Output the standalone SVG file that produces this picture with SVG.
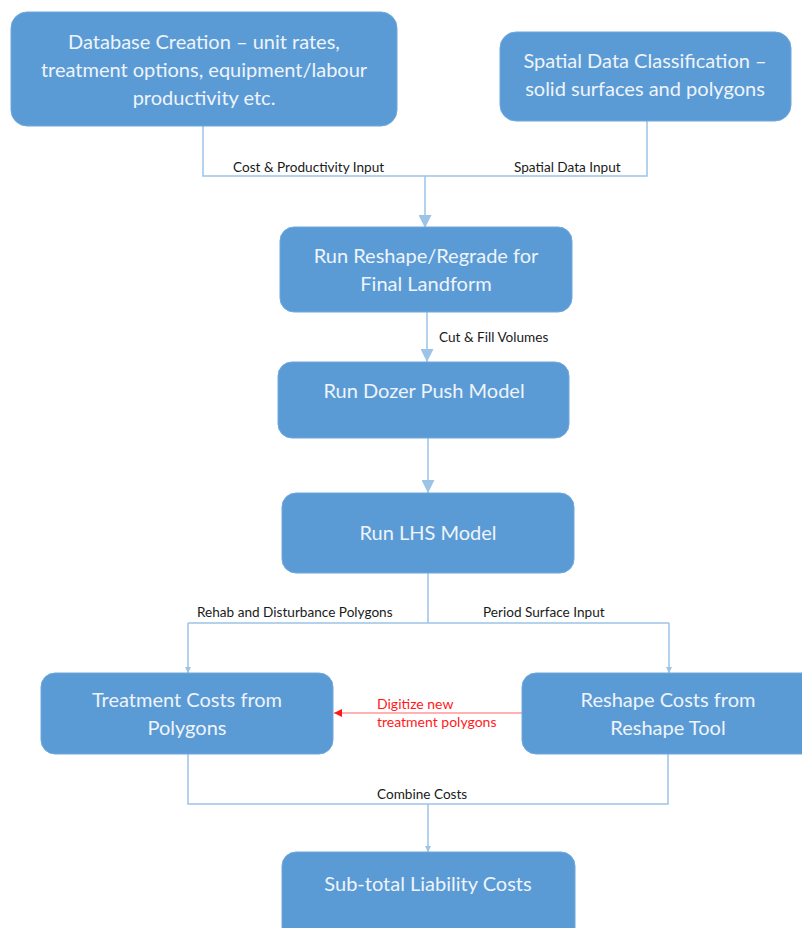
<svg xmlns="http://www.w3.org/2000/svg" width="802" height="928" viewBox="0 0 802 928">
<defs>
<style>
.box{fill:#5B9BD5;stroke:#6FA8DC;stroke-width:1}
.bt{font-family:Lato,"Open Sans","Liberation Sans",sans-serif;font-size:20px;fill:#EEF4FB;text-anchor:middle}
.lbl{font-family:Lato,"Open Sans","Liberation Sans",sans-serif;font-size:13.6px;fill:#1a1a1a}
.red{font-family:Lato,"Open Sans","Liberation Sans",sans-serif;font-size:14px;fill:#FF1A1A}
.ln{fill:none;stroke:#9DC3E6;stroke-width:1.5}
</style>
<marker id="ah" viewBox="0 0 10 10" refX="10" refY="5" markerWidth="6" markerHeight="6" orient="auto" markerUnits="userSpaceOnUse">
<path d="M0,0 L10,5 L0,10 z" fill="#9DC3E6"/>
</marker>
<marker id="ahb" viewBox="0 0 10 10" refX="10" refY="5" markerWidth="13" markerHeight="13" orient="auto" markerUnits="userSpaceOnUse">
<path d="M0,0 L10,5 L0,10 z" fill="#9DC3E6"/>
</marker>
<marker id="ahr" viewBox="0 0 10 10" refX="10" refY="5" markerWidth="8" markerHeight="8" orient="auto" markerUnits="userSpaceOnUse">
<path d="M0,0 L10,5 L0,10 z" fill="#FF1A1A"/>
</marker>
</defs>
<rect width="802" height="928" fill="#FFFFFF"/>

<g id="connectors">
<polyline class="ln" points="203,126 203,176 647,176 647,121"/>
<line class="ln" x1="425" y1="176" x2="425" y2="228" marker-end="url(#ahb)"/>
<line class="ln" x1="427" y1="312" x2="427" y2="362" marker-end="url(#ahb)"/>
<line class="ln" x1="428" y1="438" x2="428" y2="493" marker-end="url(#ahb)"/>
<line class="ln" x1="428" y1="573" x2="428" y2="623"/>
<polyline class="ln" points="188,623 669,623"/>
<line class="ln" x1="188" y1="623" x2="188" y2="673" marker-end="url(#ah)"/>
<line class="ln" x1="669" y1="623" x2="669" y2="673" marker-end="url(#ah)"/>
<polyline class="ln" points="188,754 188,804 668,804 668,754"/>
<line class="ln" x1="428" y1="804" x2="428" y2="852" marker-end="url(#ah)"/>
<line x1="522" y1="713" x2="334" y2="713" stroke="#FF1A1A" stroke-width="1.5" stroke-opacity="0.45" marker-end="url(#ahr)"/>
<text class="lbl" x="233" y="172">Cost &amp; Productivity Input</text>
<text class="lbl" x="514" y="172">Spatial Data Input</text>
<text class="lbl" x="439" y="342">Cut &amp; Fill Volumes</text>
<text class="lbl" x="197" y="617">Rehab and Disturbance Polygons</text>
<text class="lbl" x="483" y="617">Period Surface Input</text>
<text class="red" x="377" y="709">Digitize new</text>
<text class="red" x="377" y="727">treatment polygons</text>
<text class="lbl" x="377" y="799">Combine Costs</text>
</g>

<g id="database-creation">
<rect class="box" x="11" y="12" width="386" height="114" rx="16"/>
<text class="bt" x="204" y="49">Database Creation – unit rates,</text>
<text class="bt" x="204" y="77">treatment options,  equipment/labour</text>
<text class="bt" x="204" y="105">productivity etc.</text>
</g>

<g id="spatial-data">
<rect class="box" x="500" y="32" width="291" height="89" rx="16"/>
<text class="bt" x="645" y="68">Spatial Data Classification –</text>
<text class="bt" x="645" y="96">solid surfaces and polygons</text>
</g>

<g id="reshape-regrade">
<rect class="box" x="280" y="227" width="292" height="85" rx="14"/>
<text class="bt" x="426" y="263">Run Reshape/Regrade for</text>
<text class="bt" x="426" y="291">Final Landform</text>
</g>

<g id="dozer-push">
<rect class="box" x="278" y="362" width="291" height="76" rx="14"/>
<text class="bt" x="424" y="398">Run Dozer Push Model</text>
</g>

<g id="lhs-model">
<rect class="box" x="282" y="493" width="292" height="80" rx="14"/>
<text class="bt" x="428" y="540">Run LHS Model</text>
</g>

<g id="treatment-costs">
<rect class="box" x="41" y="673" width="292" height="81" rx="14"/>
<text class="bt" x="187" y="707">Treatment Costs from</text>
<text class="bt" x="187" y="735">Polygons</text>
</g>

<g id="reshape-costs">
<rect class="box" x="522" y="673" width="300" height="81" rx="14"/>
<text class="bt" x="668" y="707">Reshape Costs from</text>
<text class="bt" x="668" y="735">Reshape Tool</text>
</g>

<g id="subtotal">
<rect class="box" x="282" y="852" width="293" height="96" rx="14"/>
<text class="bt" x="428" y="891">Sub-total Liability Costs</text>
</g>
</svg>
